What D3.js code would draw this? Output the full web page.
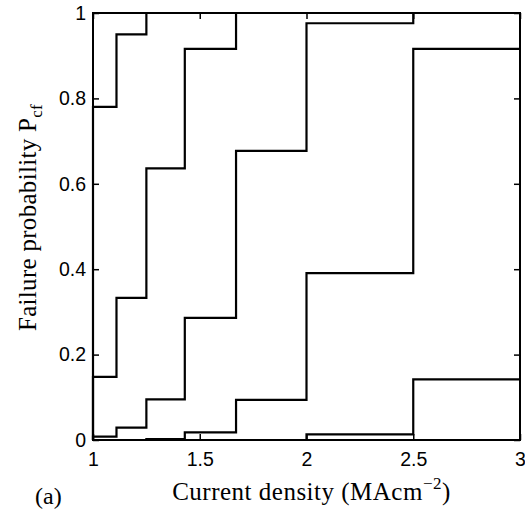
<!DOCTYPE html>
<html>
<head>
<meta charset="utf-8">
<script src="https://cdnjs.cloudflare.com/ajax/libs/d3/7.8.5/d3.min.js"></script>
<style>
  body { margin: 0; background: #fff; }
  svg { display: block; }
</style>
</head>
<body>
<svg id="chart"></svg>
<script>
// step positions (current density) and the five failure probability curves
var currentDensity = [1, 1.11, 1.25, 1.43, 1.67, 2, 2.5, 3];
var seriesA = [0.78, 0.95, 1, 1, 1, 1, 1, 1];
var seriesB = [0.148, 0.333, 0.636, 0.916, 1, 1, 1, 1];
var seriesC = [0.008, 0.029, 0.095, 0.286, 0.677, 0.976, 1, 1];
var seriesD = [0, 0, 0.002, 0.018, 0.094, 0.391, 0.916, 0.916];
var seriesE = [0, 0, 0, 0, 0, 0.013, 0.142, 0.142];
var xTicks = [1, 1.5, 2, 2.5, 3];
var yTicks = [0, 0.2, 0.4, 0.6, 0.8, 1];

var W = 525, H = 514;
var margin = { top: 13, right: 5, bottom: 74, left: 93 };
var width = W - margin.left - margin.right;
var height = H - margin.top - margin.bottom;

var svg = d3.select("#chart").attr("width", W).attr("height", H);
var g = svg.append("g")
  .attr("transform", "translate(" + margin.left + "," + margin.top + ")");

var x = d3.scaleLinear().domain([1, 3]).range([0, width]);
var y = d3.scaleLinear().domain([0, 1]).range([height, 0]);

var tickFont = "'Liberation Sans', Arial, sans-serif";
var labelFont = "'Liberation Serif', 'Times New Roman', serif";

// curves
var line = d3.line()
  .x(function(d) { return x(d[0]); })
  .y(function(d) { return y(d[1]); })
  .curve(d3.curveStepAfter);

[seriesA, seriesB, seriesC, seriesD, seriesE].forEach(function(s) {
  var pts = [[currentDensity[0], 0]].concat(currentDensity.map(function(c, i) { return [c, s[i]]; }));
  g.append("path")
    .attr("d", line(pts))
    .attr("fill", "none")
    .attr("stroke", "#000")
    .attr("stroke-width", 2.2);
});

// axes with inward ticks, box on all sides
function styleAxis(sel) {
  sel.select(".domain").remove();
  sel.selectAll("line").attr("stroke", "#000").attr("stroke-width", 1.5);
}
var axBottom = g.append("g")
  .attr("transform", "translate(0," + height + ")")
  .call(d3.axisBottom(x).tickValues(xTicks).tickSizeInner(-6).tickSizeOuter(0)
    .tickFormat(d3.format("")).tickPadding(12));
styleAxis(axBottom);
axBottom.selectAll("text").attr("font-family", tickFont).attr("font-size", "19.5px").attr("fill", "#000");

var axLeft = g.append("g")
  .call(d3.axisLeft(y).tickValues(yTicks).tickSizeInner(-6).tickSizeOuter(0)
    .tickFormat(d3.format("")).tickPadding(7));
styleAxis(axLeft);
axLeft.selectAll("text").attr("font-family", tickFont).attr("font-size", "19.5px").attr("fill", "#000");

var axTop = g.append("g")
  .call(d3.axisTop(x).tickValues(xTicks).tickSizeInner(-6).tickSizeOuter(0).tickFormat(""));
styleAxis(axTop);
var axRight = g.append("g")
  .attr("transform", "translate(" + width + ",0)")
  .call(d3.axisRight(y).tickValues(yTicks).tickSizeInner(-6).tickSizeOuter(0).tickFormat(""));
styleAxis(axRight);

g.append("rect")
  .attr("width", width).attr("height", height)
  .attr("fill", "none").attr("stroke", "#000").attr("stroke-width", 2);

// x-axis label
var xl = g.append("text")
  .attr("x", width / 2 + 5)
  .attr("y", height + 60)
  .attr("text-anchor", "middle")
  .attr("font-family", labelFont)
  .attr("font-size", "25px")
  .attr("letter-spacing", "0.5px")
  .text("Current density (MAcm");
xl.append("tspan").attr("dy", -11).attr("font-size", "17px").text("\u22122");
xl.append("tspan").attr("dy", 11).text(")");

// y-axis label
var yl = g.append("text")
  .attr("transform", "rotate(-90)")
  .attr("x", -height / 2 + 9)
  .attr("y", -margin.left + 36)
  .attr("text-anchor", "middle")
  .attr("font-family", labelFont)
  .attr("font-size", "25px")
  .attr("letter-spacing", "0.3px")
  .text("Failure probability P");
yl.append("tspan").attr("dy", 6).attr("font-size", "17px").text("cf");

// panel letter
svg.append("text")
  .attr("x", 35)
  .attr("y", 504)
  .attr("font-family", labelFont)
  .attr("font-size", "24px")
  .text("(a)");
</script>
</body>
</html>
